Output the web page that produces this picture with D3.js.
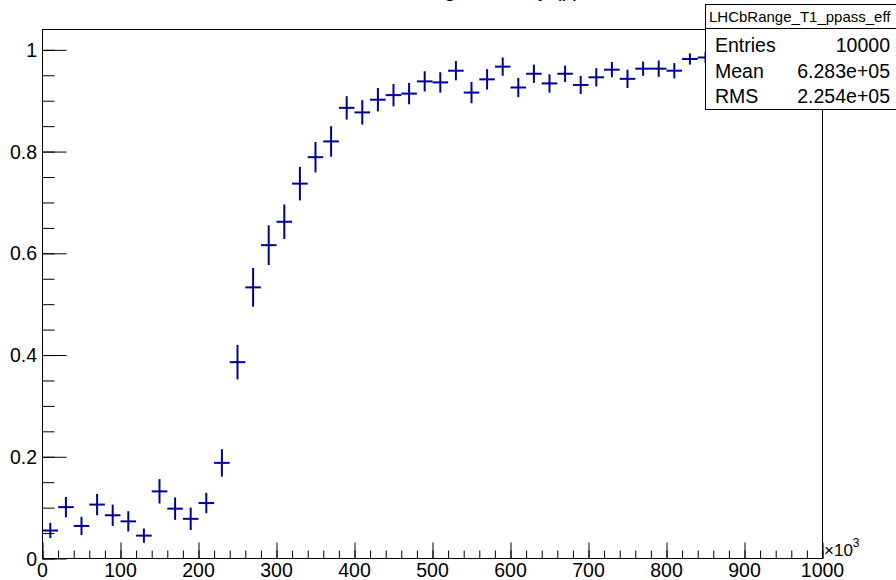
<!DOCTYPE html>
<html>
<head>
<meta charset="utf-8">
<script src="https://cdn.jsdelivr.net/npm/d3@7"></script>
<style>
  html, body { margin: 0; padding: 0; background: #fff; }
  svg { display: block; font-family: "Liberation Sans", Arial, Helvetica, sans-serif; }
</style>
</head>
<body>
<svg id="chart" width="896" height="580"></svg>
<script>
// ---- data ----
const histName = "LHCbRange_T1_ppass_eff";
const histTitle = "Tracking efficiency (p)";
const binCenters = [10, 30, 50, 70, 90, 110, 130, 150, 170, 190,
                    210, 230, 250, 270, 290, 310, 330, 350, 370, 390,
                    410, 430, 450, 470, 490, 510, 530, 550, 570, 590,
                    610, 630, 650, 670, 690, 710, 730, 750, 770, 790,
                    810, 830, 850];
const binHalfWidth = 10;
const effValues = [0.055, 0.101, 0.064, 0.106, 0.085, 0.073, 0.045, 0.132, 0.098, 0.078,
                   0.109, 0.188, 0.386, 0.533, 0.616, 0.662, 0.737, 0.789, 0.820, 0.886,
                   0.877, 0.902, 0.911, 0.914, 0.938, 0.936, 0.959, 0.916, 0.942, 0.967,
                   0.926, 0.953, 0.934, 0.953, 0.931, 0.946, 0.961, 0.943, 0.963, 0.963,
                   0.959, 0.982, 0.985];
const effErrors = [0.015, 0.020, 0.018, 0.021, 0.021, 0.020, 0.014, 0.024, 0.022, 0.022,
                   0.020, 0.027, 0.034, 0.038, 0.039, 0.034, 0.033, 0.030, 0.030, 0.023,
                   0.024, 0.023, 0.022, 0.021, 0.020, 0.020, 0.019, 0.021, 0.020, 0.018,
                   0.019, 0.018, 0.018, 0.016, 0.018, 0.018, 0.015, 0.018, 0.014, 0.016,
                   0.015, 0.011, 0.011];
const xTickValues = [0, 100, 200, 300, 400, 500, 600, 700, 800, 900, 1000];
const yTickValues = [0, 0.2, 0.4, 0.6, 0.8, 1];
const statLabels = ["Entries", "Mean", "RMS"];
const statValues = ["10000", "6.283e+05", "2.254e+05"];
const xDomain = [0, 1000];
const yDomain = [0, 1.04];

// ---- layout ----
const L = 42.5, R = 822.5, T = 29.5, B = 558.5;
const svg = d3.select("#chart");
const x = d3.scaleLinear().domain(xDomain).range([L, R]);
const y = d3.scaleLinear().domain(yDomain).range([B, T]);
const markColor = "#000099";

// title (mostly above the visible area, only descenders show)
svg.append("text").attr("x", 478).attr("y", -3)
  .attr("text-anchor", "middle").attr("font-size", 21).attr("fill", "#000")
  .text(histTitle);

// frame
svg.append("rect").attr("x", L).attr("y", T).attr("width", R - L).attr("height", B - T)
  .attr("fill", "none").attr("stroke", "#000").attr("stroke-width", 1);

// x axis ticks (inward)
const xMinor = d3.range(0, 1000.001, 20);
const gx = svg.append("g").attr("transform", `translate(0,${B})`);
gx.call(d3.axisBottom(x).tickValues(xMinor).tickSize(-8).tickFormat(""))
  .call(g => g.select(".domain").remove());
gx.append("g").call(d3.axisBottom(x).tickValues(xTickValues).tickSize(-16).tickFormat(""))
  .call(g => g.select(".domain").remove());
gx.selectAll("line").attr("stroke", "#000");
svg.append("g").selectAll("text").data(xTickValues).join("text")
  .attr("x", d => x(d)).attr("y", 577)
  .attr("text-anchor", "middle").attr("font-size", 19.5).attr("fill", "#000")
  .text(d => d3.format("d")(d));

// y axis ticks (inward)
const yMinor = d3.range(0, 1.0401, 0.05);
const gy = svg.append("g").attr("transform", `translate(${L},0)`);
gy.call(d3.axisLeft(y).tickValues(yMinor).tickSize(-12).tickFormat(""))
  .call(g => g.select(".domain").remove());
gy.append("g").call(d3.axisLeft(y).tickValues(yTickValues).tickSize(-24).tickFormat(""))
  .call(g => g.select(".domain").remove());
gy.selectAll("line").attr("stroke", "#000");
svg.append("g").selectAll("text").data(yTickValues).join("text")
  .attr("x", 37).attr("y", d => y(d) + 7)
  .attr("text-anchor", "end").attr("font-size", 19.5).attr("fill", "#000")
  .text(d => d3.format("~g")(d));

// x10^3
const mult = svg.append("text").attr("x", 824).attr("y", 556).attr("font-size", 17).attr("fill", "#000");
mult.append("tspan").text("\u00d710");
mult.append("tspan").attr("dy", -9).attr("font-size", 12).text("3");

// data crosses
const pts = binCenters.map((c, i) => ({ c, v: effValues[i], e: effErrors[i] }));
const gp = svg.append("g").attr("stroke", markColor).attr("stroke-width", 2).attr("fill", "none");
gp.selectAll("line.h").data(pts).join("line").attr("class", "h")
  .attr("x1", d => x(d.c - binHalfWidth)).attr("x2", d => x(d.c + binHalfWidth))
  .attr("y1", d => y(d.v)).attr("y2", d => y(d.v));
gp.selectAll("line.v").data(pts).join("line").attr("class", "v")
  .attr("x1", d => x(d.c)).attr("x2", d => x(d.c))
  .attr("y1", d => y(Math.max(0, d.v - d.e))).attr("y2", d => y(d.v + d.e));

// stats box
const sb = svg.append("g");
sb.append("rect").attr("x", 705.5).attr("y", 4.5).attr("width", 200).attr("height", 105)
  .attr("fill", "#fff").attr("stroke", "#000").attr("stroke-width", 1);
sb.append("line").attr("x1", 705.5).attr("x2", 905).attr("y1", 28.5).attr("y2", 28.5)
  .attr("stroke", "#000").attr("stroke-width", 1);
sb.append("text").attr("x", 709).attr("y", 22).attr("font-size", 15).attr("fill", "#000").text(histName);
sb.selectAll("text.lab").data(statLabels).join("text").attr("class", "lab")
  .attr("x", 715).attr("y", (d, i) => 52 + i * 25.5).attr("font-size", 19.5).attr("fill", "#000").text(d => d);
sb.selectAll("text.val").data(statValues).join("text").attr("class", "val")
  .attr("x", 890).attr("y", (d, i) => 52 + i * 25.5).attr("text-anchor", "end")
  .attr("font-size", 19.5).attr("fill", "#000").text(d => d);
</script>
</body>
</html>
